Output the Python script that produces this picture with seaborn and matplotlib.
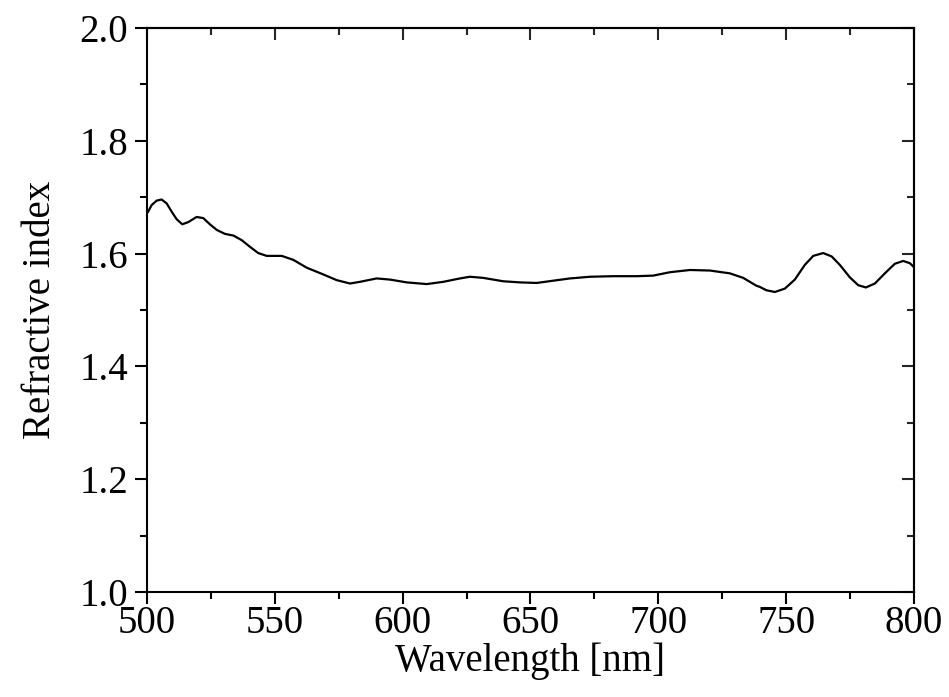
import matplotlib
matplotlib.use("Agg")
import matplotlib.pyplot as plt
import seaborn as sns
import pandas as pd
from matplotlib.ticker import MultipleLocator, FormatStrFormatter

# values
wavelength = [500.3, 501.8, 503.8, 505.7, 507.7, 509.7, 511.6, 513.8, 516.2, 519.4,
              522.0, 524.6, 527.3, 530.5, 533.8, 537.0, 540.3, 543.5, 546.8, 548.1,
              552.7, 557.2, 562.5, 569.0, 574.2, 579.4, 583.3, 589.8, 595.0, 601.6,
              609.4, 615.9, 622.4, 626.3, 631.5, 639.3, 645.9, 652.4, 658.9, 665.4,
              673.3, 682.4, 691.5, 698.0, 704.5, 712.4, 720.2, 728.0, 733.2, 738.4,
              739.7, 742.3, 745.6, 749.5, 753.4, 757.3, 760.6, 764.5, 767.8, 771.0,
              774.9, 778.2, 781.2, 784.7, 788.6, 792.5, 795.8, 798.4, 800.0]
refr_index = [1.673, 1.686, 1.694, 1.696, 1.689, 1.674, 1.661, 1.652, 1.656, 1.665,
              1.663, 1.652, 1.642, 1.635, 1.632, 1.624, 1.612, 1.601, 1.596, 1.596,
              1.596, 1.589, 1.575, 1.563, 1.553, 1.547, 1.550, 1.556, 1.554, 1.549,
              1.546, 1.550, 1.556, 1.559, 1.557, 1.551, 1.549, 1.548, 1.552, 1.556,
              1.559, 1.560, 1.560, 1.561, 1.567, 1.571, 1.570, 1.565, 1.557, 1.543,
              1.541, 1.535, 1.532, 1.538, 1.554, 1.580, 1.596, 1.601, 1.595, 1.580,
              1.558, 1.544, 1.540, 1.547, 1.565, 1.582, 1.587, 1.583, 1.576]

df = pd.DataFrame({"wl": wavelength, "n": refr_index})

sns.set_style("ticks")
plt.rcParams['font.family'] = ['Liberation Serif', 'DejaVu Serif']
plt.rcParams['text.color'] = 'black'
plt.rcParams['axes.labelcolor'] = 'black'

fig = plt.figure(figsize=(9.49, 6.97), dpi=100)
ax = fig.add_axes([0.1549, 0.1506, 0.8082, 0.8092])

sns.lineplot(data=df, x="wl", y="n", ax=ax, color="black", linewidth=1.6, sort=False)

ax.set_xlim(500, 800)
ax.set_ylim(1.0, 2.0)
ax.xaxis.set_major_locator(MultipleLocator(50))
ax.xaxis.set_minor_locator(MultipleLocator(25))
ax.yaxis.set_major_locator(MultipleLocator(0.2))
ax.yaxis.set_minor_locator(MultipleLocator(0.1))
ax.yaxis.set_major_formatter(FormatStrFormatter('%.1f'))

for side in ax.spines.values():
    side.set_linewidth(1.5)
    side.set_color("black")

# bottom/left outward, top/right inward (mirror ticks)
ax.tick_params(which='both', direction='out', width=1.5, colors='black',
               labelsize=28, top=False, right=False)
ax.tick_params(which='major', length=8.5)
ax.tick_params(which='minor', length=4.8)
ax.tick_params(axis='x', pad=1)
ax.tick_params(axis='y', pad=5)

ax_top = ax.secondary_xaxis('top')
ax_top.xaxis.set_major_locator(MultipleLocator(50))
ax_top.xaxis.set_minor_locator(MultipleLocator(25))
ax_top.tick_params(which='both', direction='in', width=1.5, labeltop=False)
ax_top.tick_params(which='major', length=8.5)
ax_top.tick_params(which='minor', length=4.8)
ax_top.spines['top'].set_linewidth(1.5)

ax_right = ax.secondary_yaxis('right')
ax_right.yaxis.set_major_locator(MultipleLocator(0.2))
ax_right.yaxis.set_minor_locator(MultipleLocator(0.1))
ax_right.tick_params(which='both', direction='in', width=1.5, labelright=False)
ax_right.tick_params(which='major', length=8.5)
ax_right.tick_params(which='minor', length=4.8)
ax_right.spines['right'].set_linewidth(1.5)

ax.set_xlabel("Wavelength [nm]", fontsize=28, labelpad=0)
ax.set_ylabel("Refractive index", fontsize=28, labelpad=15)

fig.savefig("out.png", dpi=100)
